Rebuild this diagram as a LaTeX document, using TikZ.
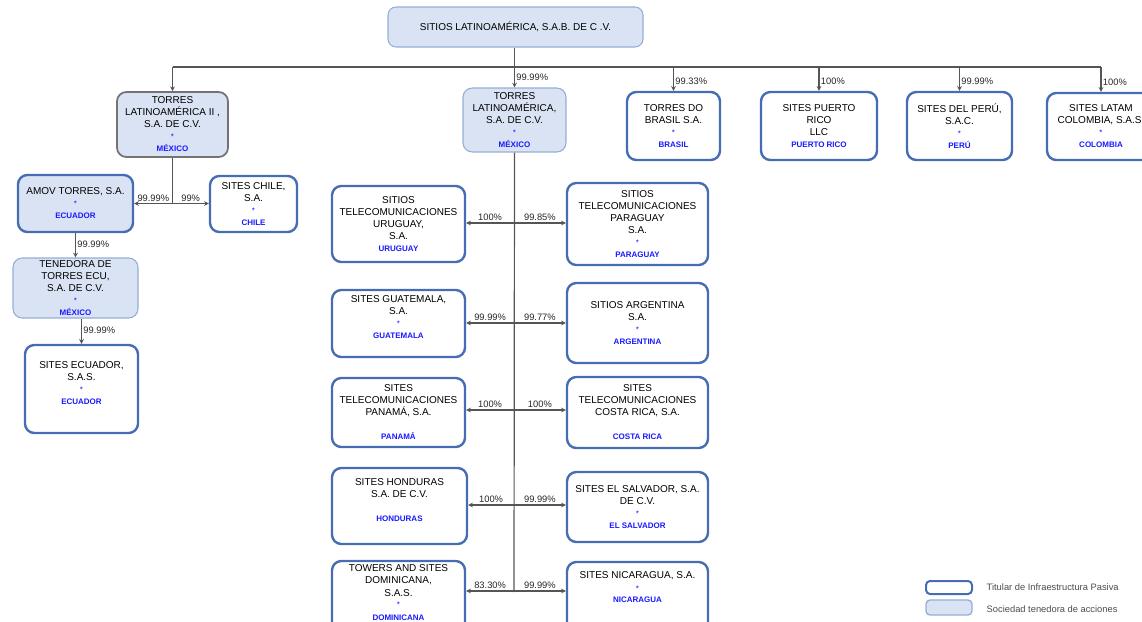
\documentclass[tikz,border=0pt]{standalone}
\usepackage{fontspec}
\setmainfont{Liberation Sans}
\usetikzlibrary{arrows.meta}
\definecolor{titblue}{RGB}{70,108,180}
\definecolor{holdfill}{RGB}{218,227,243}
\definecolor{holdline}{RGB}{150,174,214}
\definecolor{ctyblue}{RGB}{25,25,255}
\definecolor{linegray}{RGB}{85,85,85}
\newlength\pxu
\setlength\pxu{0.75pt}
\newcommand\cty[1]{{\color{ctyblue}\fontsize{6}{7}\selectfont\bfseries #1}}
\newcommand\mk{{\color{ctyblue}\fontsize{6}{7}\selectfont *}}
\tikzset{
	sz/.style 2 args={minimum width=#1\pxu, minimum height=#2\pxu},
	ent/.style={rounded corners=7pt, align=center, inner sep=1pt, font=\fontsize{7.5}{9}\selectfont},
	titular/.style={ent, draw=titblue, line width=1.8pt, fill=white},
	holding/.style={ent, draw=holdline, line width=0.8pt, fill=holdfill},
	conn/.style={draw=linegray, line width=0.9pt},
	arr/.style={conn, -{Stealth[length=3.5pt,width=3.5pt]}},
	pct/.style={font=\fontsize{7}{8}\selectfont, inner sep=1pt, text=black!85},
}
\begin{document}
\begin{tikzpicture}[x=0.75pt,y=-0.75pt]
	\useasboundingbox (0,0) rectangle (1142,621);
	\clip (0,0) rectangle (1142,621);

	\node[holding, sz={255}{40}, rounded corners=6pt] (top) at (515.5,27) {SITIOS LATINOAMÉRICA, S.A.B. DE C .V.};
	\node[holding, sz={111}{65}, draw=black!55, line width=1.3pt] (tl2) at (172.5,124.5) {TORRES\\LATINOAMÉRICA II ,\\S.A. DE C.V.\\\mk\\\cty{MÉXICO}};
	\node[holding, sz={103}{64}] (tl) at (514.5,120) {TORRES\\LATINOAMÉRICA,\\S.A. DE C.V.\\\mk\\\cty{MÉXICO}};

	\node[titular, sz={93}{68}] (brasil) at (673.5,126) {TORRES DO\\BRASIL S.A.\\\mk\\\cty{BRASIL}};
	\node[titular, sz={116}{68}] (puerto) at (819,126) {SITES PUERTO\\RICO\\LLC\\\cty{PUERTO RICO}};
	\node[titular, sz={105}{68}] (peru) at (959.5,126) {SITES DEL PERÚ,\\S.A.C.\\\mk\\\cty{PERÚ}};
	\node[titular, sz={108}{67}] (colombia) at (1101,126.5) {SITES LATAM\\COLOMBIA, S.A.S.\\\mk\\\cty{COLOMBIA}};

	\node[holding, sz={115}{57}, draw=titblue, line width=1.8pt] (amov) at (75.5,203.5) {AMOV TORRES, S.A.\\\mk\\\cty{ECUADOR}};
	\node[titular, sz={87}{56}] (chile) at (253.5,204) {SITES CHILE,\\S.A.\\\mk\\\cty{CHILE}};
	\node[holding, sz={125}{60}] (tenedora) at (75.5,288) {TENEDORA DE\\TORRES ECU,\\S.A. DE C.V.\\\mk\\\cty{MÉXICO}};
	\node[titular, sz={113}{88}] (ecuador) at (81.5,389) {SITES ECUADOR,\\S.A.S.\\\mk\\\cty{ECUADOR}\\~};

	\node[titular, sz={133}{76}] (uruguay) at (398.5,224) {SITIOS\\TELECOMUNICACIONES\\URUGUAY,\\S.A.\\\cty{URUGUAY}};
	\node[titular, sz={141}{82}] (paraguay) at (637.5,224) {SITIOS\\TELECOMUNICACIONES\\PARAGUAY\\S.A.\\\mk\\\cty{PARAGUAY}};
	\node[titular, sz={133}{67}] (guatemala) at (398.5,323.5) {SITES GUATEMALA,\\S.A.\\\mk\\\cty{GUATEMALA}\\~};
	\node[titular, sz={141}{80}] (argentina) at (637.5,323) {SITIOS ARGENTINA\\S.A.\\\mk\\\cty{ARGENTINA}};
	\node[titular, sz={133}{69}] (panama) at (398.5,412.5) {SITES\\TELECOMUNICACIONES\\PANAMÁ, S.A.\\~\\\cty{PANAMÁ}};
	\node[titular, sz={141}{71}] (costarica) at (637.5,412.5) {SITES\\TELECOMUNICACIONES\\COSTA RICA, S.A.\\~\\\cty{COSTA RICA}};
	\node[titular, sz={135}{76}] (honduras) at (399.5,506) {SITES HONDURAS\\S.A. DE C.V.\\~\\\cty{HONDURAS}\\~};
	\node[titular, sz={141}{70}] (elsalvador) at (637.5,507) {SITES EL SALVADOR, S.A.\\DE C.V.\\\mk\\\cty{EL SALVADOR}};
	\node[titular, sz={133}{75}] (dominicana) at (398.5,598.5) {TOWERS AND SITES\\DOMINICANA,\\S.A.S.\\\mk\\\cty{DOMINICANA}\\~};
	\node[titular, sz={141}{75}] (nicaragua) at (637.5,599.5) {SITES NICARAGUA, S.A.\\\mk\\\cty{NICARAGUA}\\~\\~};

	\coordinate (bus) at (515,67);
	\draw[conn] (tl2.north |- bus) -- (colombia.north |- bus);
	\draw[arr] (tl.north |- top.south) -- node[pct, right, pos=.75] {99.99\%} (tl.north);
	\draw[arr] (tl2.north |- bus) -- (tl2.north);
	\draw[arr] (brasil.north |- bus) -- node[pct, right, pos=.6] {99.33\%} (brasil.north);
	\draw[arr] (puerto.north |- bus) -- node[pct, right, pos=.6] {100\%} (puerto.north);
	\draw[arr] (peru.north |- bus) -- node[pct, right, pos=.6] {99.99\%} (peru.north);
	\draw[arr] (colombia.north |- bus) -- node[pct, right, pos=.6] {100\%} (colombia.north);

	\coordinate (jn) at (tl2.south |- amov.east);
	\draw[conn] (tl2.south) -- (jn);
	\draw[arr] (jn) -- node[pct, above] {99.99\%} (amov.east);
	\draw[arr] (jn) -- node[pct, above] {99\%} (jn -| chile.west);
	\draw[arr] (amov.south) -- node[pct, right, pos=.45] {99.99\%} (amov.south |- tenedora.north);
	\draw[arr] (ecuador.north |- tenedora.south) -- node[pct, right, pos=.45] {99.99\%} (ecuador.north);

	\coordinate (spine) at (514,592);
	\draw[conn] (tl.south) -- (spine);
	\coordinate (r1) at (514,223);
	\coordinate (r2) at (514,323);
	\coordinate (r3) at (514,410);
	\coordinate (r4) at (514,505);
	\coordinate (r5) at (514,591);
	\draw[arr] (r1) -- node[pct, above] {100\%} (r1 -| uruguay.east);
	\draw[arr] (r1) -- node[pct, above] {99.85\%} (r1 -| paraguay.west);
	\draw[arr] (r2) -- node[pct, above] {99.99\%} (r2 -| guatemala.east);
	\draw[arr] (r2) -- node[pct, above] {99.77\%} (r2 -| argentina.west);
	\draw[arr] (r3) -- node[pct, above] {100\%} (r3 -| panama.east);
	\draw[arr] (r3) -- node[pct, above] {100\%} (r3 -| costarica.west);
	\draw[arr] (r4) -- node[pct, above] {100\%} (r4 -| honduras.east);
	\draw[arr] (r4) -- node[pct, above] {99.99\%} (r4 -| elsalvador.west);
	\draw[arr] (r5) -- node[pct, above] {83.30\%} (r5 -| dominicana.east);
	\draw[arr] (r5) -- node[pct, above] {99.99\%} (r5 -| nicaragua.west);

	\node[titular, sz={46}{13}, rounded corners=3pt, line width=1.5pt] (legtit) at (949,587.5) {};
	\node[holding, sz={46}{15}, rounded corners=3pt, line width=1pt] (leghold) at (949,607.5) {};
	\node[anchor=west, font=\fontsize{7}{8}\selectfont, text=black!70] (legtittext) at (982,587.5) {Titular de Infraestructura Pasiva};
	\node[anchor=west, font=\fontsize{7}{8}\selectfont, text=black!70] (legholdtext) at (982,609) {Sociedad tenedora de acciones};
\end{tikzpicture}
\end{document}
